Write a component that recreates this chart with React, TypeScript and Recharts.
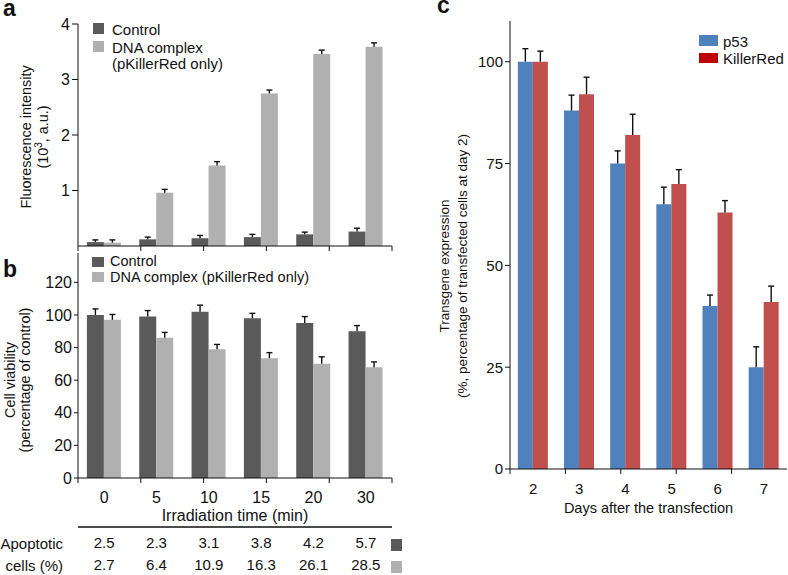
import React from 'react';
import { BarChart, Bar, XAxis, YAxis } from 'recharts';

const FONT = '"Liberation Sans", Arial, Helvetica, sans-serif';
const INK = '#111';
const DARK = '#5a5a5a';
const LIGHT = '#b0b0b0';
const BLUE = '#4f81bd';
const RED = '#c0504d';

// panels a and b: irradiation time (min)
const times = ['0', '5', '10', '15', '20', '30'];

// a: fluorescence intensity (10^3 a.u.)
const fluorCtrl = [0.07, 0.12, 0.14, 0.16, 0.21, 0.26];
const fluorCtrlErr = [0.04, 0.04, 0.05, 0.05, 0.04, 0.06];
const fluorDna = [0.06, 0.96, 1.45, 2.75, 3.46, 3.59];
const fluorDnaErr = [0.05, 0.06, 0.07, 0.06, 0.07, 0.07];

// b: cell viability (% of control)
const viabCtrl = [100, 99, 102, 98, 95, 90];
const viabCtrlErr = [3.7, 3.7, 4, 3, 4, 3.5];
const viabDna = [97, 86, 79, 73.5, 70, 68];
const viabDnaErr = [3.3, 3.3, 2.9, 3.4, 4.3, 3.2];

// b: apoptotic cells table
const apopCtrl = ['2.5', '2.3', '3.1', '3.8', '4.2', '5.7'];
const apopDna = ['2.7', '6.4', '10.9', '16.3', '26.1', '28.5'];

// c: transgene expression
const days = ['2', '3', '4', '5', '6', '7'];
const p53 = [100, 88, 75, 65, 40, 25];
const p53Err = [3.2, 3.8, 3.1, 4.2, 2.7, 5];
const killerRed = [100, 92, 82, 70, 63, 41];
const killerRedErr = [2.6, 4.2, 5.1, 3.5, 2.9, 3.9];

const fluorData = times.map((t, i) => ({
  t, ctrl: fluorCtrl[i], ctrlErr: fluorCtrlErr[i], dna: fluorDna[i], dnaErr: fluorDnaErr[i],
}));
const viabData = times.map((t, i) => ({
  t, ctrl: viabCtrl[i], ctrlErr: viabCtrlErr[i], dna: viabDna[i], dnaErr: viabDnaErr[i],
}));
const dayData = days.map((d, i) => ({
  d, p53: p53[i], p53Err: p53Err[i], kr: killerRed[i], krErr: killerRedErr[i],
}));

// tick marks sit on the category boundaries, not the centres
const edges = [0, 1, 2, 3, 4, 5, 6];

// axis ids: bottom axes get stacked in id order
const EDGE = 'a_edge';
const CAT = 'b_cat';
const ROW1 = 'c_row1';
const ROW2 = 'd_row2';

// upper half of an error bar, drawn on a stacked segment
function ErrShape(props: any) {
  const { x, y, width, height } = props;
  if (height == null || height <= 0) return null;
  const cx = x + width / 2;
  return (
    <g stroke={INK} strokeWidth={1.4}>
      <line x1={cx} y1={y + height} x2={cx} y2={y} />
      <line x1={cx - 3} y1={y} x2={cx + 3} y2={y} />
    </g>
  );
}

const tickStyle = (size: number) => ({ fill: INK, fontSize: size, fontFamily: FONT });

export default function App() {
  return (
    <div style={{ position: 'absolute', left: 0, top: 0, width: 788, height: 575, background: '#fff', fontFamily: FONT }}>
      {/* a */}
      <div style={{ position: 'absolute', left: 0, top: 0 }}>
        <BarChart width={400} height={252} data={fluorData} margin={{ top: 24, right: 8, bottom: 5, left: 0 }}
          barCategoryGap="17%" barGap={0}>
          <XAxis xAxisId={EDGE} type="number" domain={[0, 6]} ticks={edges} allowDataOverflow
            tickFormatter={() => ''} tickSize={5} height={1} stroke={INK} />
          <XAxis xAxisId={CAT} dataKey="t" hide />
          <YAxis domain={[0, 4]} ticks={[0, 1, 2, 3, 4]} width={78} tickSize={6} tickMargin={2} stroke={INK}
            tick={tickStyle(16)} />
          <Bar xAxisId={CAT} dataKey="ctrl" stackId="c" fill={DARK} isAnimationActive={false} />
          <Bar xAxisId={CAT} dataKey="ctrlErr" stackId="c" shape={ErrShape} legendType="none" isAnimationActive={false} />
          <Bar xAxisId={CAT} dataKey="dna" stackId="d" fill={LIGHT} isAnimationActive={false} />
          <Bar xAxisId={CAT} dataKey="dnaErr" stackId="d" shape={ErrShape} legendType="none" isAnimationActive={false} />
        </BarChart>
      </div>

      {/* b */}
      <div style={{ position: 'absolute', left: 0, top: 250 }}>
        <BarChart width={400} height={325} data={viabData} margin={{ top: 3, right: 8, bottom: 0, left: 0 }}
          barCategoryGap="17%" barGap={0}>
          <XAxis xAxisId={EDGE} type="number" domain={[0, 6]} ticks={edges} allowDataOverflow
            tickFormatter={() => ''} tickSize={5} height={1} stroke={INK} />
          <XAxis xAxisId={CAT} dataKey="t" height={48} axisLine={false} tickLine={false} tickMargin={7} interval={0}
            tick={tickStyle(16)}
            label={{ value: 'Irradiation time (min)', position: 'insideBottom', offset: 6, fill: INK, fontSize: 16, fontFamily: FONT }} />
          <XAxis xAxisId={ROW1} dataKey="t" height={22} axisLine={{ stroke: INK, strokeWidth: 1.6 }} tickLine={false}
            tickMargin={4} interval={0} tick={tickStyle(15)} tickFormatter={(_v: any, i: number) => apopCtrl[i]} />
          <XAxis xAxisId={ROW2} dataKey="t" height={26} axisLine={false} tickLine={false}
            tickMargin={4} interval={0} tick={tickStyle(15)} tickFormatter={(_v: any, i: number) => apopDna[i]} />
          <YAxis domain={[0, 138]} ticks={[0, 20, 40, 60, 80, 100, 120]} width={78} tickSize={4} tickMargin={2}
            stroke={INK} tick={tickStyle(16)} allowDataOverflow />
          <Bar xAxisId={CAT} dataKey="ctrl" stackId="c" fill={DARK} isAnimationActive={false} />
          <Bar xAxisId={CAT} dataKey="ctrlErr" stackId="c" shape={ErrShape} legendType="none" isAnimationActive={false} />
          <Bar xAxisId={CAT} dataKey="dna" stackId="d" fill={LIGHT} isAnimationActive={false} />
          <Bar xAxisId={CAT} dataKey="dnaErr" stackId="d" shape={ErrShape} legendType="none" isAnimationActive={false} />
        </BarChart>
      </div>

      {/* c */}
      <div style={{ position: 'absolute', left: 400, top: 0 }}>
        <BarChart width={388} height={519} data={dayData} margin={{ top: 21, right: 1, bottom: 0, left: 0 }}
          barCategoryGap="17%" barGap={0}>
          <XAxis xAxisId={EDGE} type="number" domain={[0, 6]} ticks={edges} allowDataOverflow
            tickFormatter={() => ''} tickSize={5} height={1} stroke={INK} />
          <XAxis xAxisId={CAT} dataKey="d" height={49} axisLine={false} tickLine={false} tickMargin={7} interval={0}
            tick={tickStyle(15)}
            label={{ value: 'Days after the transfection', position: 'insideBottom', offset: 6, fill: INK, fontSize: 14.5, fontFamily: FONT }} />
          <YAxis domain={[0, 110]} ticks={[0, 25, 50, 75, 100]} width={110} tickSize={5} tickMargin={2}
            stroke={INK} tick={tickStyle(15)} allowDataOverflow />
          <Bar xAxisId={CAT} dataKey="p53" stackId="p" fill={BLUE} isAnimationActive={false} />
          <Bar xAxisId={CAT} dataKey="p53Err" stackId="p" shape={ErrShape} legendType="none" isAnimationActive={false} />
          <Bar xAxisId={CAT} dataKey="kr" stackId="k" fill={RED} isAnimationActive={false} />
          <Bar xAxisId={CAT} dataKey="krErr" stackId="k" shape={ErrShape} legendType="none" isAnimationActive={false} />
        </BarChart>
      </div>

      {/* labels, legends, table captions */}
      <svg width={788} height={575} style={{ position: 'absolute', left: 0, top: 0, pointerEvents: 'none' }}
        fontFamily={FONT} fill={INK}>
        <text x={3} y={16} fontSize={23} fontWeight="bold">a</text>
        <text x={3} y={277} fontSize={23} fontWeight="bold">b</text>
        <text x={437} y={13} fontSize={23} fontWeight="bold">c</text>

        <g fontSize={14.4} textAnchor="middle" dominantBaseline="central">
          <text transform="translate(26,137) rotate(-90)">Fluorescence intensity</text>
          <text transform="translate(43,137) rotate(-90)">
            (10<tspan fontSize={10} dy={-5}>3</tspan><tspan dy={5}>, a.u.)</tspan>
          </text>
          <text transform="translate(10,380) rotate(-90)">Cell viability</text>
          <text transform="translate(25,380) rotate(-90)">(percentage of control)</text>
        </g>
        <g fontSize={13.5} textAnchor="middle" dominantBaseline="central">
          <text transform="translate(444,266) rotate(-90)">Transgene expression</text>
          <text transform="translate(462,266) rotate(-90)">(%, percentage of transfected cells at day 2)</text>
        </g>

        <g fontSize={15} dominantBaseline="central">
          <rect x={93} y={23} width={11} height={11} fill={DARK} />
          <text x={112} y={29}>Control</text>
          <rect x={93} y={41} width={11} height={11} fill={LIGHT} />
          <text x={112} y={47}>DNA complex</text>
          <text x={112} y={63}>(pKillerRed only)</text>

          <rect x={92} y={257} width={12} height={10} fill={DARK} />
          <text x={110} y={261} fontSize={14.5}>Control</text>
          <rect x={92} y={272} width={12} height={10} fill={LIGHT} />
          <text x={110} y={277} fontSize={14.5}>DNA complex (pKillerRed only)</text>

          <text x={63} y={543} textAnchor="end">Apoptotic</text>
          <text x={63} y={565} textAnchor="end">cells (%)</text>
          <rect x={391} y={539} width={11} height={12} fill={DARK} />
          <rect x={391} y={561} width={11} height={12} fill={LIGHT} />

          <rect x={699} y={35} width={19} height={11} fill={BLUE} />
          <text x={723} y={41}>p53</text>
          <rect x={699} y={53} width={19} height={10} fill="#c00000" />
          <text x={723} y={58}>KillerRed</text>
        </g>
      </svg>
    </div>
  );
}
